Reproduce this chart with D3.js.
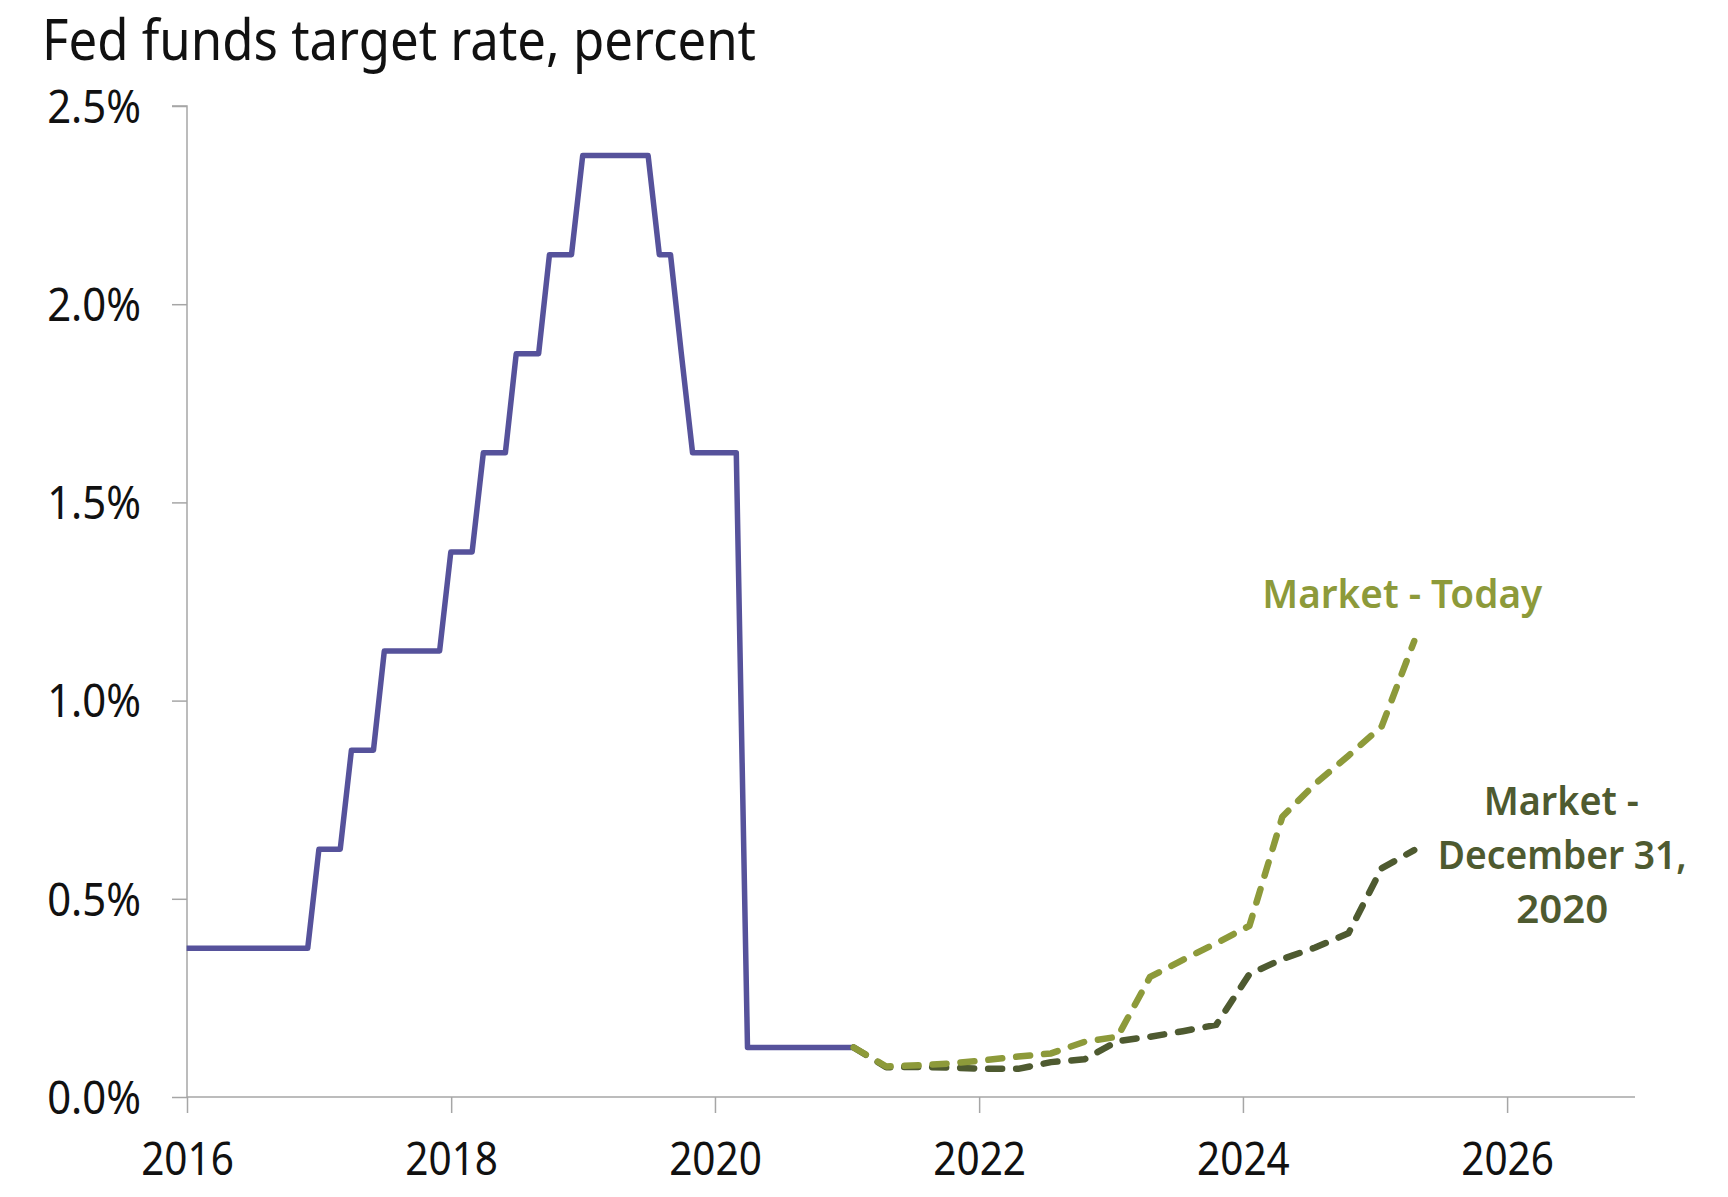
<!DOCTYPE html>
<html>
<head>
<meta charset="utf-8">
<script src="https://cdn.jsdelivr.net/npm/d3@7"></script>
<style>
  html, body { margin: 0; padding: 0; background: #fff; }
  svg { display: block; }
  text { font-family: "Noto Sans", "Open Sans", sans-serif; }
</style>
</head>
<body>
<svg id="chart" width="1728" height="1197"></svg>
<script>
// ---- Data ----
const titleText = "Fed funds target rate, percent";

// Fed funds target (midpoint of range), month-end change points
const fedDates = ["2015-12-31","2016-11-30","2016-12-31","2017-02-28","2017-03-31","2017-05-31","2017-06-30",
  "2017-11-30","2017-12-31","2018-02-28","2018-03-31","2018-05-31","2018-06-30","2018-08-31","2018-09-30",
  "2018-11-30","2018-12-31","2019-06-30","2019-07-31","2019-08-31","2019-09-30","2019-10-31","2020-02-29",
  "2020-03-31","2021-01-19"];
const fedRates = [0.375,0.375,0.625,0.625,0.875,0.875,1.125,
  1.125,1.375,1.375,1.625,1.625,1.875,1.875,2.125,
  2.125,2.375,2.375,2.125,2.125,1.875,1.625,1.625,
  0.125,0.125];

// Market-implied path (quarterly)
const marketDates = ["2021-01-19","2021-04-19","2021-07-19","2021-10-19","2022-01-19","2022-04-19",
  "2022-07-19","2022-10-19","2023-01-19","2023-04-19","2023-07-19","2023-10-19","2024-01-19",
  "2024-04-19","2024-07-19","2024-10-19","2025-01-19","2025-04-19"];
const marketToday = [0.125,0.077,0.080,0.085,0.093,0.102,0.110,0.139,0.152,0.303,0.346,0.388,0.432,
  0.707,0.790,0.861,0.935,1.150];
const marketDec31 = [0.125,0.075,0.076,0.074,0.071,0.071,0.088,0.095,0.141,0.152,0.166,0.182,0.310,
  0.348,0.377,0.413,0.577,0.623];

const yTickValues = [0, 0.5, 1.0, 1.5, 2.0, 2.5];
const xTickLabels = ["2016","2018","2020","2022","2024","2026"];
const xDomain = ["2016-01-01","2027-01-01"];

const labelToday = ["Market - Today"];
const labelDec31 = ["Market -", "December 31,", "2020"];

// ---- Styles ----
const colFed = "#56529B";
const colToday = "#8D9A3A";
const colDec = "#4E5A30";
const colAxis = "#A6A6A6";

const parse = d3.utcParse("%Y-%m-%d");
const svg = d3.select("#chart");

const x = d3.scaleUtc().domain(xDomain.map(parse)).range([187, 1639]);
const y = d3.scaleLinear().domain([0, 2.5]).range([1097, 106]);

function condense(sel, k) {
  sel.each(function() {
    const w = this.getComputedTextLength();
    d3.select(this).attr("textLength", w * k).attr("lengthAdjust", "spacingAndGlyphs");
  });
}

// Title
svg.append("text")
  .attr("x", 42).attr("y", 60)
  .attr("font-size", 57)
  .attr("fill", "#111")
  .attr("textLength", 714).attr("lengthAdjust", "spacingAndGlyphs")
  .text(titleText);

// Y axis
const yAxis = svg.append("g")
  .attr("transform", `translate(${x.range()[0]},0)`)
  .call(d3.axisLeft(y).tickValues(yTickValues).tickSize(15).tickPadding(31)
    .tickFormat(d => d3.format(".1f")(d) + "%"));
yAxis.selectAll("path.domain").attr("stroke", colAxis).attr("stroke-width", 1.5)
  .attr("d", `M-15,${y(2.5)}H0V${y(0)}`);
yAxis.selectAll(".tick line").attr("stroke", colAxis).attr("stroke-width", 1.5);
yAxis.selectAll(".tick text").attr("font-size", 45).attr("fill", "#111").attr("dy", "0.36em")
  .attr("font-family", "Noto Sans, Open Sans, sans-serif").call(condense, 0.93);

// X axis
const xTickDates = xTickLabels.map(s => parse(s + "-01-01"));
const xAxis = svg.append("g")
  .attr("transform", `translate(0,${y(0)})`)
  .call(d3.axisBottom(x).tickValues(xTickDates).tickSize(16).tickFormat(d3.utcFormat("%Y")));
xAxis.selectAll("path.domain").attr("stroke", colAxis).attr("stroke-width", 1.5)
  .attr("d", `M${x.range()[0]},0H1635`);
xAxis.selectAll(".tick line").attr("stroke", colAxis).attr("stroke-width", 1.5);
xAxis.selectAll(".tick text").attr("font-size", 45).attr("fill", "#111")
  .attr("y", 78).attr("dy", 0)
  .attr("font-family", "Noto Sans, Open Sans, sans-serif").call(condense, 0.9);

// Lines
const fedData = fedDates.map((d, i) => ({ date: parse(d), v: fedRates[i] }));
const todayData = marketDates.map((d, i) => ({ date: parse(d), v: marketToday[i] }));
const decData = marketDates.map((d, i) => ({ date: parse(d), v: marketDec31[i] }));

const line = d3.line().x(d => x(d.date)).y(d => y(d.v));

svg.append("path").datum(fedData)
  .attr("d", line).attr("fill", "none")
  .attr("stroke", colFed).attr("stroke-width", 5.5)
  .attr("stroke-linejoin", "round").attr("stroke-linecap", "butt");

svg.append("path").datum(decData)
  .attr("d", line).attr("fill", "none")
  .attr("stroke", colDec).attr("stroke-width", 6.5)
  .attr("stroke-dasharray", "14 14").attr("stroke-linecap", "round").attr("stroke-linejoin", "round");

svg.append("path").datum(todayData)
  .attr("d", line).attr("fill", "none")
  .attr("stroke", colToday).attr("stroke-width", 6.5)
  .attr("stroke-dasharray", "14 14").attr("stroke-linecap", "round").attr("stroke-linejoin", "round");

// Labels
const lastToday = todayData[todayData.length - 1];
const lastDec = decData[decData.length - 1];

svg.append("text")
  .attr("x", x(lastToday.date) - 12).attr("y", y(lastToday.v) - 33)
  .attr("text-anchor", "middle").attr("font-size", 40).attr("font-weight", 600)
  .attr("fill", colToday)
  .attr("textLength", 280).attr("lengthAdjust", "spacingAndGlyphs")
  .text(labelToday[0]);

const decLabel = svg.append("text")
  .attr("text-anchor", "middle").attr("font-size", 40).attr("font-weight", 600)
  .attr("fill", colDec);
const decWidths = [155, 249, 92];
const decDx = [-2, 148, 148];
labelDec31.forEach((t, i) => {
  decLabel.append("tspan")
    .attr("x", x(lastDec.date) + 148 - (i === 0 ? 1 : 0))
    .attr("y", y(lastDec.v) - 35 + i * 54)
    .attr("textLength", decWidths[i]).attr("lengthAdjust", "spacingAndGlyphs")
    .text(t);
});
</script>
</body>
</html>
